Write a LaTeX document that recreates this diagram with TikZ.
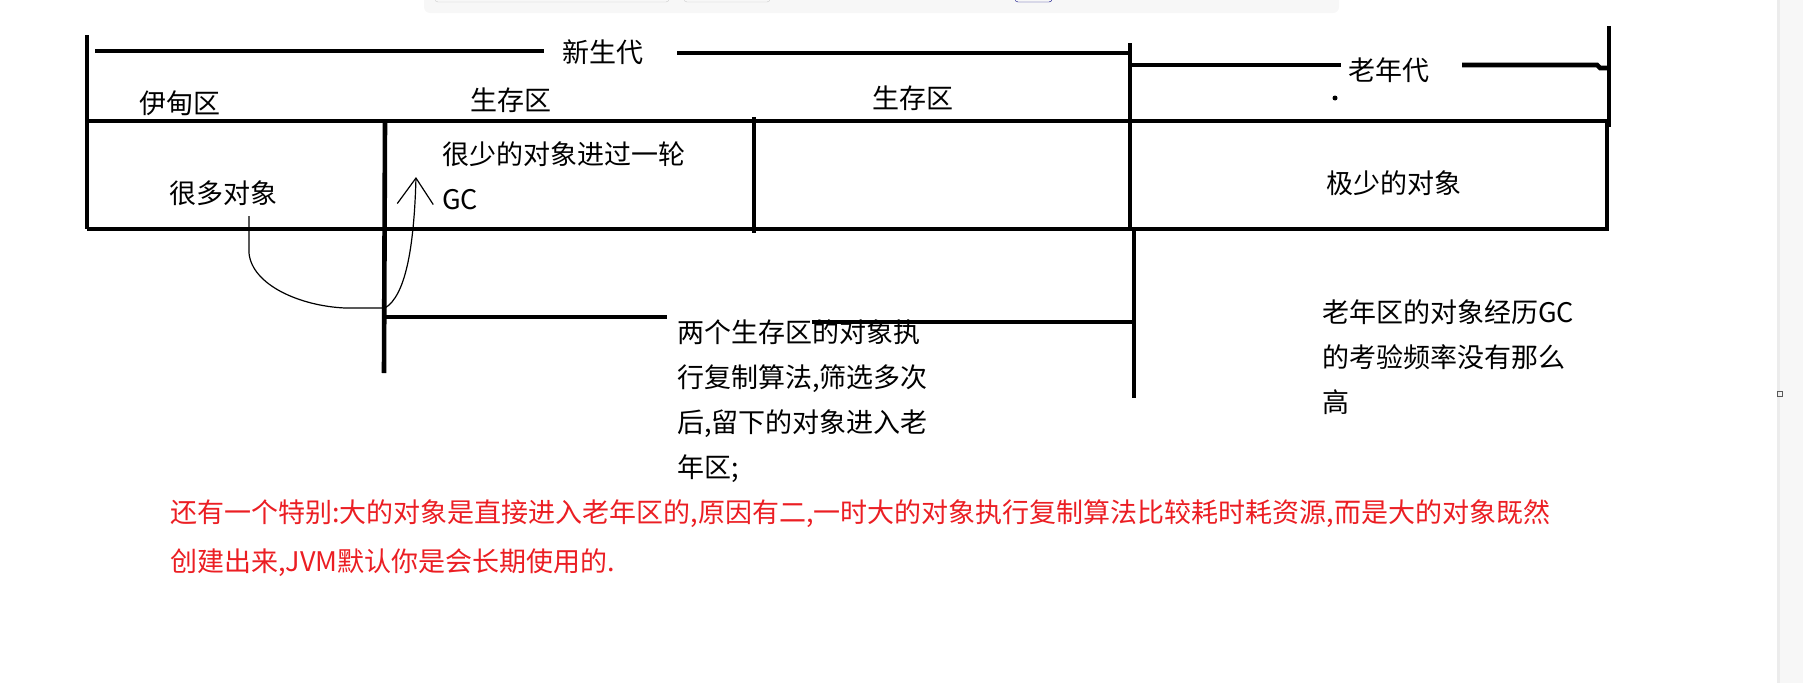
\documentclass[tikz,border=0pt]{standalone}
\usepackage{fontspec}
\newfontfamily\cjk{Noto Sans CJK SC}
\usetikzlibrary{arrows.meta}
\definecolor{notered}{RGB}{235,30,35}
\tikzset{
  bar/.style={line width=4.6pt},
  lbl/.style={font=\cjk\fontsize{27}{45}\selectfont, inner sep=0pt},
  note/.style={lbl, align=left, anchor=north west},
}

\begin{document}
\begin{tikzpicture}[x=1pt,y=-1pt]
\useasboundingbox (0,0) rectangle (1803,683);

% window chrome
\fill[gray!6, rounded corners=6pt] (424,-10) rectangle (1339,13);
\draw[gray!40, rounded corners=3pt] (435,-6) rectangle (669,2);
\draw[gray!40, rounded corners=3pt] (684,-6) rectangle (770,2);
\draw[blue!50!black, rounded corners=3pt] (1015,-6) rectangle (1052,2);
\fill[gray!6] (1777,0) rectangle (1803,683);
\fill[gray!15] (1777,0) rectangle (1780,683);
\draw[gray!70!black, line width=1pt] (1777.5,391) rectangle (1782.5,396);

% generation labels
\node[lbl] (young) at (603,52) {新生代};
\node[lbl] (old) at (1389,70) {老年代};

\draw[bar] (95,51) -- (544,51);
\draw[bar] (677,53) -- (1130,53);
\draw[bar] (1130,65) -- (1341,65);
\draw[bar] (1462,65) -- (1597,65) -- (1600,68) -- (1609,68);
\fill (1335,98) circle (2.5);

% heap box
\draw[bar] (87,35) -- (87,229);
\draw[bar] (1609,26) -- (1609,127);
\draw[bar] (86,121) -- (1609,121);
\draw[bar] (87,229) -- (1607,229) -- (1607,121);
\draw[bar] (385,121) -- (384,373);
\draw[bar] (754,117) -- (754,233);
\draw[bar] (1130,43) -- (1130,229) -- (1134,229) -- (1134,398);
\draw[bar] (384,317) -- (667,317);
\draw[bar] (812,322) -- (1134,322);

% region names
\node[lbl] (eden) at (180,103) {伊甸区};
\node[lbl] (s1) at (511,100) {生存区};
\node[lbl] (s2) at (913,98) {生存区};

% contents
\node[lbl] (many) at (223,193) {很多对象};
\node[note] (few) at (442,142) {很少的对象进过一轮\\GC};
\node[lbl] (rare) at (1394,183) {极少的对象};

% notes below
\node[note] (copy) at (677,320) {两个生存区的对象执\\行复制算法,筛选多次\\后,留下的对象进入老\\年区;};
\node[note] (oldgc) at (1322,300) {老年区的对象经历GC\\的考验频率没有那么\\高};
\node[note, text=notered, font=\cjk\fontsize{27}{49}\selectfont] (big) at (170,499)
  {还有一个特别:大的对象是直接进入老年区的,原因有二,一时大的对象执行复制算法比较耗时耗资源,而是大的对象既然\\创建出来,JVM默认你是会长期使用的.};

% promotion arrow
\coordinate (gcfrom) at (249,216);
\coordinate (gcto) at (416,177);
\draw[line width=1.2pt, -{Straight Barb[length=26pt,width=36pt]}] (gcfrom) -- (249,253)
  .. controls (252,285) and (300,306) .. (345,308) -- (385,308)
  .. controls (405,296) and (414,250) .. (gcto);

\end{tikzpicture}
\end{document}
